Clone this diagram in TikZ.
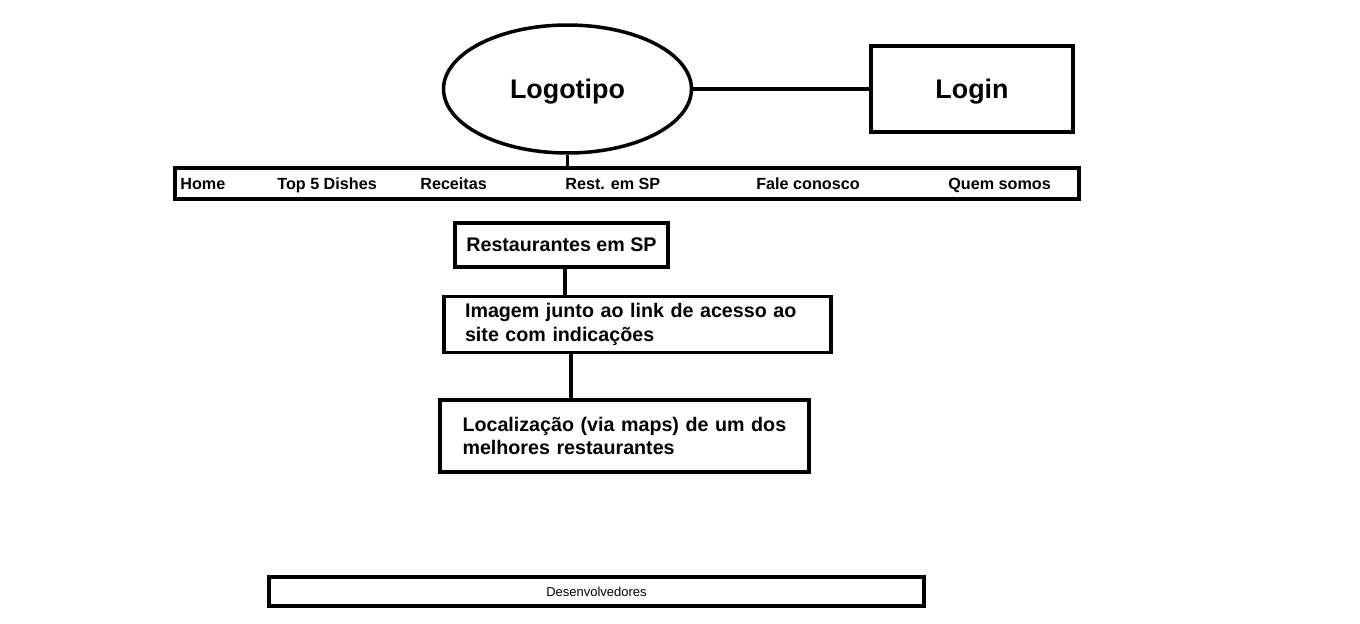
\documentclass[tikz,border=0pt]{standalone}
\usepackage{fontspec}
\setmainfont{Liberation Sans}
\usetikzlibrary{shapes.geometric}

\tikzset{
  box/.style={draw, rectangle, line width=2.2pt, inner sep=0pt},
  menu/.style={anchor=base west, inner sep=0pt, font=\bfseries\fontsize{9.2}{11}\selectfont},
  boxtext/.style={font=\bfseries\fontsize{11.2}{13.6}\selectfont}
}

\begin{document}
\begin{tikzpicture}[x=0.02cm, y=-0.02cm]

    \useasboundingbox (0,0) rectangle (1360,623);

    \node [draw, ellipse, line width=2pt, minimum width=4.96cm, minimum height=2.56cm, text depth=0pt,
           font=\bfseries\fontsize{15.3}{18}\selectfont] (logo) at (567.5, 89) {Logotipo};
    \node [box, minimum width=4.04cm, minimum height=1.72cm, text depth=0pt,
           font=\bfseries\fontsize{15.3}{18}\selectfont] (login) at (972, 89) {Login};

    \node [box, minimum width=18.08cm, minimum height=0.62cm] (nav) at (627, 183.5) {};
    \node [menu] (home) at (180, 189) {Home};
    \node [menu] (top) at (277, 189) {Top 5 Dishes};
    \node [menu] (rec) at (420, 189) {Receitas};
    \node [menu] (sp) at (565, 189) {Rest. em SP};
    \node [menu] (fale) at (756, 189) {Fale conosco};
    \node [menu] (quem) at (948, 189) {Quem somos};

    \node [box, boxtext, minimum width=4.26cm, minimum height=0.88cm] (rsp) at (561.5, 245) {Restaurantes em SP};
    \node [box, boxtext, minimum width=7.74cm, minimum height=1.12cm, inner xsep=0.42cm,
           text width=6.9cm, align=left] (img) at (637.5, 324.5)
          {Imagem junto ao link de acesso ao\\site com indicações};
    \node [box, boxtext, minimum width=7.38cm, minimum height=1.44cm, inner xsep=0.45cm,
           text width=6.48cm, align=left] (loc) at (624.5, 436)
          {Localização (via maps) de um dos\\melhores restaurantes};

    \node [box, minimum width=13.1cm, minimum height=0.58cm,
           font=\fontsize{7.4}{9}\selectfont] (dev) at (596.5, 591.5) {Desenvolvedores};

    \draw [line width=2pt] (logo) to (login);
    \draw [line width=2pt] (logo.south) to (logo.south |- nav.north);
    \draw [line width=2pt] ([xshift=0.07cm]rsp.south) to ([xshift=0.07cm]rsp.south |- img.north);
    \draw [line width=2pt] ([xshift=-1.33cm]img.south) to ([xshift=-1.33cm]img.south |- loc.north);

\end{tikzpicture}
\end{document}
